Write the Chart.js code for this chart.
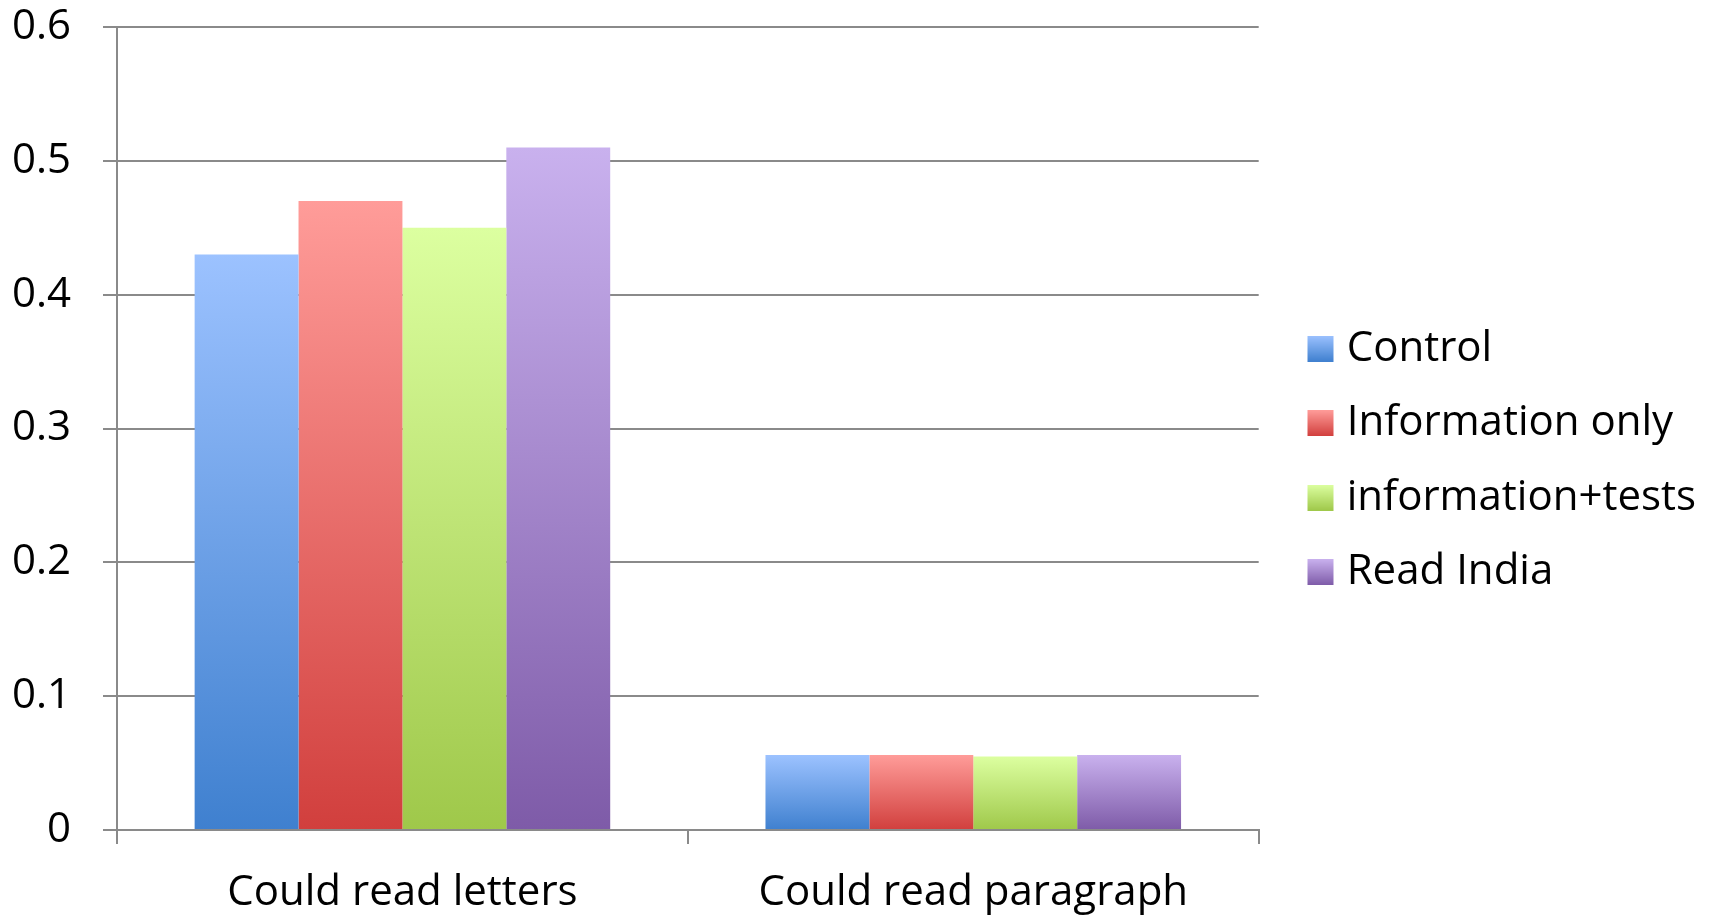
<!DOCTYPE html>
<html>
<head>
<meta charset="utf-8">
<script src="https://cdn.jsdelivr.net/npm/chart.js@4.4.1/dist/chart.umd.min.js"></script>
<style>
    html, body { margin: 0; padding: 0; background: #fff; }
    #wrap { width: 1717px; height: 915px; }
</style>
</head>
<body>
<div id="wrap"><canvas id="readingChart"></canvas></div>
<script>
// Chart data
const categories = ['Could read letters', 'Could read paragraph'];
const seriesNames = ['Control', 'Information only', 'information+tests', 'Read India'];
const controlValues = [0.43, 0.056];
const infoOnlyValues = [0.47, 0.056];
const infoTestsValues = [0.45, 0.055];
const readIndiaValues = [0.51, 0.056];
const yTickLabels = ['0', '0.1', '0.2', '0.3', '0.4', '0.5', '0.6'];

// top / bottom colour of each series gradient
const seriesColors = [
    ['#9cc2ff', '#3f80cf'],
    ['#ff9c99', '#d13f3d'],
    ['#dcffa0', '#9fc84a'],
    ['#c9b1ee', '#7e5ba8']
];

const FONT = { family: '"Open Sans", sans-serif', size: 42 };
const GRID = '#8a8a8a';

function barFill(i) {
    return function(context) {
        const chart = context.chart;
        const y = chart.scales.y;
        if (context.type !== 'data' || !y || !chart.chartArea) return seriesColors[i][0];
        const top = y.getPixelForValue(context.parsed.y);
        const base = y.getPixelForValue(0);
        const g = chart.ctx.createLinearGradient(0, top, 0, base);
        g.addColorStop(0, seriesColors[i][0]);
        g.addColorStop(1, seriesColors[i][1]);
        return g;
    };
}

// legend swatch: 26px square inside a wider transparent canvas
function swatch(i) {
    const c = document.createElement('canvas');
    c.width = 60;
    c.height = 26;
    const cx = c.getContext('2d');
    const g = cx.createLinearGradient(0, 0, 0, 26);
    g.addColorStop(0, seriesColors[i][0]);
    g.addColorStop(1, seriesColors[i][1]);
    cx.fillStyle = g;
    cx.fillRect(29, 0, 26, 26);
    return c;
}

function drawChart() {
    const swatches = seriesColors.map((_, i) => swatch(i));
    const allValues = [controlValues, infoOnlyValues, infoTestsValues, readIndiaValues];

    new Chart(document.getElementById('readingChart'), {
        type: 'bar',
        data: {
            labels: categories,
            datasets: allValues.map((vals, i) => ({
                label: seriesNames[i],
                data: vals,
                backgroundColor: barFill(i),
                borderWidth: 0,
                barPercentage: 1,
                categoryPercentage: 0.728
            }))
        },
        options: {
            responsive: true,
            maintainAspectRatio: false,
            animation: false,
            layout: { padding: { left: 13, top: 6, right: 11, bottom: 0 } },
            scales: {
                x: {
                    grid: {
                        offset: true,
                        drawOnChartArea: false,
                        color: GRID,
                        lineWidth: 2,
                        tickLength: 14
                    },
                    border: { color: GRID, width: 2 },
                    ticks: { color: '#000', font: FONT, padding: 24, maxRotation: 0 },
                    afterFit: function(scale) { scale.height = 85; }
                },
                y: {
                    min: 0,
                    max: 0.6,
                    grid: { color: GRID, lineWidth: 2, tickLength: 14 },
                    border: { color: GRID, width: 2 },
                    ticks: {
                        stepSize: 0.1,
                        color: '#000',
                        font: FONT,
                        padding: 32,
                        callback: function(value, index) {
                            return yTickLabels[index];
                        }
                    },
                    afterFit: function(scale) {
                        scale.width = 104;
                        scale.paddingTop = 27;
                    }
                }
            },
            plugins: {
                legend: {
                    position: 'right',
                    maxWidth: 600,
                    labels: {
                        color: '#000',
                        font: FONT,
                        padding: 32.5,
                        usePointStyle: true,
                        pointStyleWidth: 34.5,
                        generateLabels: function(chart) {
                            const items = Chart.defaults.plugins.legend.labels.generateLabels(chart);
                            items.forEach((item, i) => {
                                item.pointStyle = swatches[i];
                                item.fillStyle = seriesColors[i][0];
                                item.lineWidth = 0;
                            });
                            return items;
                        }
                    }
                },
                tooltip: { enabled: false }
            }
        }
    });
}

document.fonts.load('42px "Open Sans"').then(drawChart, drawChart);
</script>
</body>
</html>
